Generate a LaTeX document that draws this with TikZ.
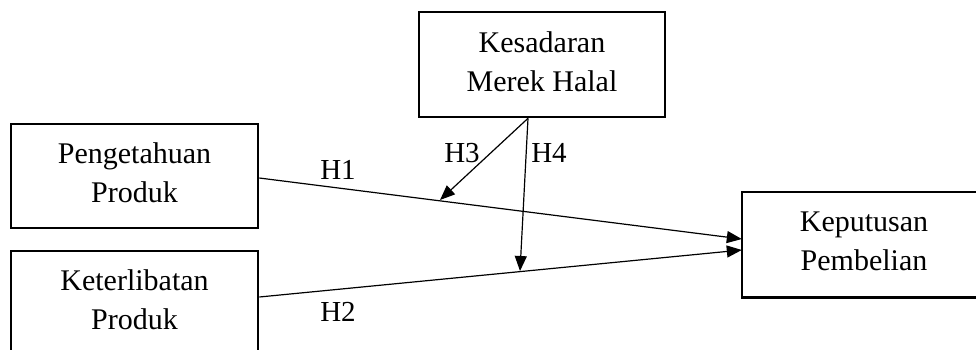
\documentclass[tikz,border=0pt]{standalone}
\usepackage{fontspec}
\setmainfont{Liberation Serif}
\usetikzlibrary{arrows.meta}
\tikzset{
  varbox/.style={draw=black, line width=2.6pt, fill=white, inner sep=0pt,
    align=center, text depth=6pt, font=\fontsize{30}{39}\selectfont},
  opentext/.style={inner sep=0pt, align=center, text depth=6pt, font=\fontsize{30}{39}\selectfont},
  path/.style={draw=black, line width=1.2pt, -{Triangle[length=15pt,width=12pt]}},
  hlabel/.style={font=\fontsize{29}{34}\selectfont, inner sep=0pt}
}
\begin{document}
\begin{tikzpicture}[x=1pt, y=-1pt]
\useasboundingbox (0,0) rectangle (976,349);
\node[varbox, minimum width=246pt, minimum height=105pt] (km) at (542,64.5) {Kesadaran\\Merek Halal};
\node[varbox, minimum width=247pt, minimum height=104pt] (pp) at (134.5,176) {Pengetahuan\\Produk};
\node[varbox, minimum width=247pt, minimum height=104pt] (kp) at (134.5,303) {Keterlibatan\\Produk};
\node[opentext, minimum width=244pt, minimum height=105pt] (kb) at (864,244.5) {Keputusan\\Pembelian};
\draw[line width=2.6pt] (kb.north west) rectangle ([xshift=40pt]kb.south east);
\coordinate (h3tip) at (440,200);
\coordinate (h4tip) at (520,271);
\draw[path] ([yshift=-2pt]pp.east) -- ([yshift=5.5pt]kb.west);
\draw[path] ([yshift=6pt]kp.east) -- ([yshift=-5.5pt]kb.west);
\draw[path] ([xshift=-14pt]km.south) -- (h3tip);
\draw[path] ([xshift=-14pt]km.south) -- (h4tip);
\node[hlabel] (l1) at (338,170) {H1};
\node[hlabel] (l2) at (338,312) {H2};
\node[hlabel] (l3) at (462,153) {H3};
\node[hlabel] (l4) at (549,153) {H4};
\end{tikzpicture}
\end{document}
